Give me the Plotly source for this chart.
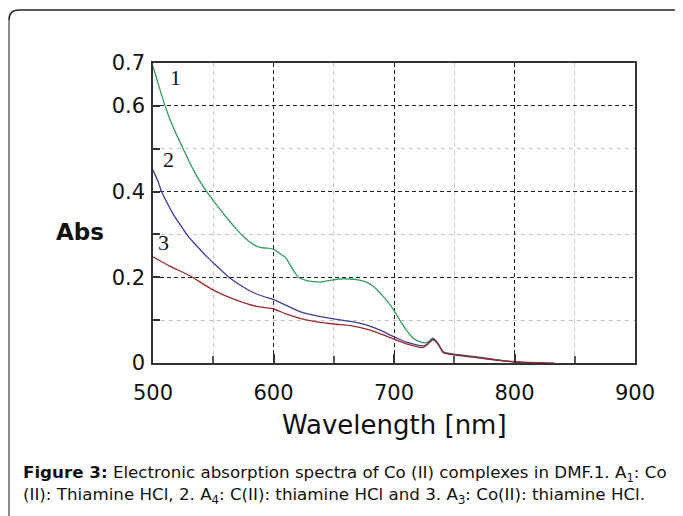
import plotly.graph_objects as go

# ---------------- data ----------------
wl_1 = [500, 505, 510, 515, 520, 525, 530, 535, 540, 545, 550, 555, 560, 565, 570,
        575, 580, 585, 590, 595, 600, 605, 610, 614, 617, 621, 627, 633, 640, 647,
        655, 663, 670, 676, 682, 689, 695, 700, 705, 710, 716, 721, 726, 729, 732,
        734, 737, 741, 750, 760, 775, 791, 808, 825]
abs_1 = [0.692, 0.645, 0.600, 0.562, 0.530, 0.500, 0.470, 0.443, 0.419, 0.398, 0.379,
         0.361, 0.343, 0.326, 0.310, 0.295, 0.283, 0.274, 0.269, 0.268, 0.265, 0.256,
         0.246, 0.228, 0.214, 0.200, 0.193, 0.190, 0.189, 0.193, 0.196, 0.196, 0.194,
         0.190, 0.181, 0.162, 0.142, 0.123, 0.099, 0.078, 0.058, 0.050, 0.047, 0.050,
         0.058, 0.055, 0.043, 0.026, 0.020, 0.016, 0.011, 0.005, 0.001, 0.000]

wl_2 = [500, 504, 507, 512, 517, 522, 528, 534, 540, 545, 550, 556, 563, 570, 578,
        586, 593, 600, 611, 622, 636, 650, 664, 673, 681, 689, 697, 704, 711, 718,
        724, 728, 732, 734, 737, 741, 750, 758, 775, 791, 808, 820]
abs_2 = [0.450, 0.425, 0.401, 0.372, 0.346, 0.325, 0.300, 0.280, 0.262, 0.247, 0.234,
         0.218, 0.200, 0.186, 0.172, 0.161, 0.154, 0.148, 0.134, 0.120, 0.110, 0.103,
         0.097, 0.092, 0.085, 0.076, 0.065, 0.056, 0.048, 0.043, 0.040, 0.045, 0.056,
         0.053, 0.043, 0.025, 0.020, 0.018, 0.012, 0.005, 0.001, 0.000]

wl_3 = [500, 514, 531, 550, 567, 586, 600, 611, 628, 650, 664, 681, 697, 711, 718,
        724, 728, 732, 734, 737, 741, 750, 758, 775, 791, 808, 833]
abs_3 = [0.248, 0.226, 0.203, 0.170, 0.149, 0.132, 0.126, 0.114, 0.100, 0.091, 0.087,
         0.076, 0.059, 0.044, 0.039, 0.036, 0.044, 0.054, 0.052, 0.042, 0.024, 0.019,
         0.016, 0.010, 0.005, 0.002, 0.000]

x_ticks = [500, 600, 700, 800, 900]
x_minor = [550, 650, 750, 850]
y_ticks = [0, 0.2, 0.4, 0.6, 0.7]
y_ticktext = ["0", "0.2", "0.4", "0.6", "0.7"]
y_minor = [0.1, 0.3, 0.5]

curve_labels = ["1", "2", "3"]
label_pos = [(519, 0.666), (513, 0.474), (509, 0.282)]

caption_1 = ("<b>Figure 3:</b> Electronic absorption spectra of Co (II) complexes in DMF.1. "
             "A<sub>1</sub>: Co")
caption_2 = "(II): Thiamine HCl, 2. A<sub>4</sub>: C(II): thiamine HCl and 3. A<sub>3</sub>: Co(II): thiamine HCl."

# ---------------- figure ----------------
# the page body adds an 8px margin, so the figure is drawn 8px smaller and offset
OFF = 8
W, H = 683 - OFF, 516 - OFF
L, T = 153 - OFF, 63 - OFF
PW, PH = 482, 300
R, B = W - L - PW, H - T - PH


def px(x):
    return (x - OFF - L) / PW


def py(y):
    return (T + PH - (y - OFF)) / PH


fig = go.Figure()
fig.add_trace(go.Scatter(x=wl_1, y=abs_1, mode="lines",
                         line=dict(color="#2f9e5c", width=1.3, shape="spline", smoothing=0.6),
                         showlegend=False))
fig.add_trace(go.Scatter(x=wl_2, y=abs_2, mode="lines",
                         line=dict(color="#3d3d9c", width=1.3, shape="spline", smoothing=0.6),
                         showlegend=False))
fig.add_trace(go.Scatter(x=wl_3, y=abs_3, mode="lines",
                         line=dict(color="#a02a2a", width=1.3, shape="spline", smoothing=0.6),
                         showlegend=False))

tick_font = dict(family="DejaVu Sans", size=21, color="#111")

fig.update_xaxes(range=[500, 900], tickmode="array", tickvals=x_ticks,
                 showgrid=True, gridcolor="#222", griddash="4px,3px", gridwidth=1,
                 ticks="inside", ticklen=9, tickcolor="#333", tickwidth=1.5,
                 showline=True, mirror=True, linecolor="#333", linewidth=1.5,
                 zeroline=False, tickfont=tick_font, ticklabelstandoff=10,
                 minor=dict(tickvals=x_minor, showgrid=True, gridcolor="#c4c4c4",
                            griddash="4px,4px", ticks="inside", ticklen=7,
                            tickcolor="#555"))
fig.update_yaxes(range=[0, 0.7], tickmode="array", tickvals=y_ticks, ticktext=y_ticktext,
                 showgrid=True, gridcolor="#222", griddash="4px,3px", gridwidth=1,
                 ticks="inside", ticklen=7, tickcolor="#333", tickwidth=1.5,
                 showline=True, mirror=True, linecolor="#333", linewidth=1.5,
                 zeroline=False, tickfont=tick_font, ticklabelstandoff=2,
                 minor=dict(tickvals=y_minor, showgrid=True, gridcolor="#c4c4c4",
                            griddash="4px,4px", ticks="inside", ticklen=7,
                            tickcolor="#333"))

annotations = []
for txt, (lx, ly) in zip(curve_labels, label_pos):
    annotations.append(dict(x=lx, y=ly, xref="x", yref="y", text=txt, showarrow=False,
                            font=dict(family="Liberation Serif", size=22, color="#111")))
annotations.append(dict(x=px(80), y=py(232), xref="paper", yref="paper", text="Abs",
                        showarrow=False, xanchor="center", yanchor="middle",
                        font=dict(family="DejaVu Sans", size=23, color="#111", weight="bold")))
annotations.append(dict(x=px(394), y=py(425), xref="paper", yref="paper",
                        text="Wavelength [nm]", showarrow=False, xanchor="center",
                        yanchor="middle",
                        font=dict(family="DejaVu Sans", size=26, color="#111")))
annotations.append(dict(x=px(21), y=py(473), xref="paper", yref="paper", text=caption_1,
                        showarrow=False, xanchor="left", yanchor="middle", align="left",
                        font=dict(family="DejaVu Sans", size=16.7, color="#111")))
annotations.append(dict(x=px(21), y=py(495), xref="paper", yref="paper", text=caption_2,
                        showarrow=False, xanchor="left", yanchor="middle", align="left",
                        font=dict(family="DejaVu Sans", size=16.7, color="#111")))

shapes = [
    dict(type="path", xref="paper", yref="paper",
         path=f"M {px(9)},{py(530)} L {px(9)},{py(20)}",
         line=dict(color="#8a8a8a", width=2)),
    dict(type="path", xref="paper", yref="paper",
         path=(f"M {px(9)},{py(20)} Q {px(9)},{py(10)} {px(19)},{py(10)} "
               f"L {px(674)},{py(10)} Q {px(682)},{py(10)} {px(682)},{py(18)}"),
         line=dict(color="#222", width=1.5)),
]

fig.update_layout(width=W, height=H, margin=dict(l=L, r=R, t=T, b=B, autoexpand=False),
                  paper_bgcolor="white", plot_bgcolor="white",
                  annotations=annotations, shapes=shapes, showlegend=False)

fig.write_html("out.html")
